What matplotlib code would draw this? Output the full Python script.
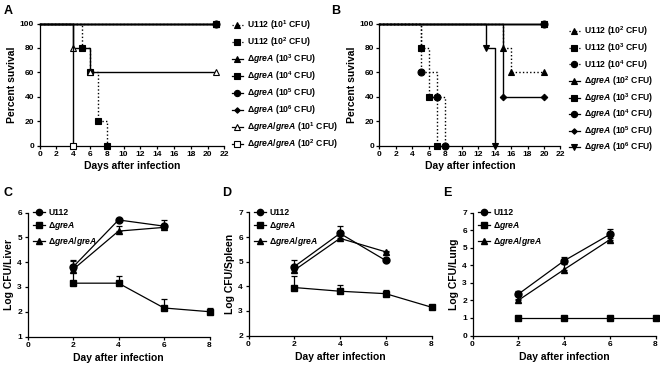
import numpy as np
import matplotlib
matplotlib.use("Agg")
import matplotlib.pyplot as plt

plt.rcParams['font.family'] = ['Liberation Sans', 'DejaVu Sans']
plt.rcParams['font.weight'] = 'bold'
plt.rcParams['mathtext.fontset'] = 'custom'
plt.rcParams['mathtext.rm'] = 'Liberation Sans:bold'
plt.rcParams['mathtext.it'] = 'Liberation Sans:italic:bold'
plt.rcParams['mathtext.bf'] = 'Liberation Sans:bold'
plt.rcParams['axes.linewidth'] = 0.9

GA = r'Δ$\it{greA}$'
GAGA = r'Δ$\it{greA/greA}$'

# ---- panel A: survival
A_labels = ['U112 (10$^{1}$ CFU)', 'U112 (10$^{2}$ CFU)',
            GA + ' (10$^{3}$ CFU)', GA + ' (10$^{4}$ CFU)',
            GA + ' (10$^{5}$ CFU)', GA + ' (10$^{6}$ CFU)',
            GAGA + ' (10$^{1}$ CFU)', GAGA + ' (10$^{2}$ CFU)']
A_days = [[0, 21], [0, 5, 6, 7, 8], [0, 21], [0, 21], [0, 21], [0, 21],
          [0, 4, 6, 21], [0, 4]]
A_surv = [[100, 100], [100, 80, 60, 20, 0], [100, 100], [100, 100],
          [100, 100], [100, 100], [100, 80, 60, 60], [100, 0]]
A_dotted = [True, True, False, False, False, False, False, False]
A_markers = ['^', 's', '^', 's', 'o', 'D', '^', 's']
A_open = [False, False, False, False, False, False, True, True]

# ---- panel B: survival
B_labels = ['U112 (10$^{2}$ CFU)', 'U112 (10$^{3}$ CFU)', 'U112 (10$^{4}$ CFU)',
            GA + ' (10$^{2}$ CFU)', GA + ' (10$^{3}$ CFU)',
            GA + ' (10$^{4}$ CFU)', GA + ' (10$^{5}$ CFU)',
            GA + ' (10$^{6}$ CFU)']
B_days = [[0, 15, 16, 20], [0, 5, 6, 7], [0, 5, 7, 8], [0, 20], [0, 20],
          [0, 20], [0, 15, 20], [0, 13, 14]]
B_surv = [[100, 80, 60, 60], [100, 80, 40, 0], [100, 60, 40, 0], [100, 100],
          [100, 100], [100, 100], [100, 40, 40], [100, 80, 0]]
B_dotted = [True, True, True, False, False, False, False, False]
B_markers = ['^', 's', 'o', '^', 's', 'o', 'D', 'v']

# ---- panels C-E: organ burden
days = [2, 4, 6, 8]
cfu_labels = ['U112', 'Δ$\\it{greA}$', 'Δ$\\it{greA/greA}$']
cfu_markers = ['o', 's', '^']

liver_u112 = [3.8, 5.7, 5.45]
liver_u112_err = [0.3, 0.0, 0.25]
liver_grea = [3.15, 3.15, 2.15, 2.0]
liver_grea_err = [0.75, 0.3, 0.35, 0.15]
liver_comp = [3.7, 5.25, 5.4]
liver_comp_err = [0.35, 0.2, 0.1]

spleen_u112 = [4.8, 6.15, 5.05]
spleen_u112_err = [0.25, 0.3, 0.0]
spleen_grea = [3.95, 3.8, 3.7, 3.15]
spleen_grea_err = [0.45, 0.25, 0.15, 0.1]
spleen_comp = [4.65, 5.95, 5.4]
spleen_comp_err = [0.1, 0.1, 0.05]

lung_u112 = [2.35, 4.25, 5.75]
lung_u112_err = [0.2, 0.2, 0.3]
lung_grea = [1, 1, 1, 1]
lung_grea_err = [0, 0, 0, 0]
lung_comp = [2.0, 3.75, 5.45]
lung_comp_err = [0.1, 0.3, 0.1]

W, H = 660, 369
fig = plt.figure(figsize=(6.6, 3.69), dpi=100)


def rect(x0, y0, x1, y1):
    return [x0 / W, 1 - y1 / H, (x1 - x0) / W, (y1 - y0) / H]


def style(ax):
    ax.spines['top'].set_visible(False)
    ax.spines['right'].set_visible(False)
    ax.tick_params(direction='out', length=2.5, width=0.9, labelsize=6, pad=1.5)


def survival(ax, dlist, slist, dotted, markers, labels, open_=None, order=None):
    n = len(dlist)
    for i in range(n):
        ls = (0, (1, 1.6)) if dotted[i] else '-'
        fill = 'none' if (open_ is not None and open_[i]) else 'full'
        ms = 3.3 if markers[i] == 'D' else 5
        z = 3 + (order[i] if order else n - i)
        ax.step(dlist[i], slist[i], where='post', color='black', lw=1.0,
                linestyle=ls, zorder=z, clip_on=False, snap=True)
        ax.plot(dlist[i][1:], slist[i][1:], linestyle='none', marker=markers[i],
                ms=ms, color='black', mfc='white' if fill == 'none' else 'black',
                mew=0.8, zorder=z + 0.5, clip_on=False)
        # legend proxy
        ax.plot([], [], color='black', lw=0.9, linestyle=ls, marker=markers[i],
                ms=ms - 0.5, mfc='white' if fill == 'none' else 'black', mew=0.8,
                label=labels[i])
    ax.set_xlim(0, 22)
    ax.set_ylim(0, 100)
    ax.set_xticks(range(0, 23, 2))
    ax.set_yticks(range(0, 101, 20))
    ax.set_ylabel('Percent suvival', fontsize=7.5, fontweight='bold', labelpad=2)
    style(ax)


# Panel A
axA = fig.add_axes(rect(39.5, 23.5, 224.5, 145.5))
survival(axA, A_days, A_surv, A_dotted, A_markers, A_labels, A_open,
         order=[1, 2, 3, 9, 4, 5, 6, 7])
axA.set_xlabel('Days after infection', fontsize=7.5, fontweight='bold', labelpad=2)
axA.legend(loc='upper left', bbox_to_anchor=(1.04, 1.04), frameon=False,
           fontsize=6.2, handlelength=1.3, handletextpad=0.45, labelspacing=0.38,
           borderaxespad=0, borderpad=0)

# Panel B
axB = fig.add_axes(rect(379.5, 23.5, 560.5, 145.5))
survival(axB, B_days, B_surv, B_dotted, B_markers, B_labels,
         order=[2, 1, 0, 6, 9, 5, 7, 8])
axB.set_xlabel('Day after infection', fontsize=7.5, fontweight='bold', labelpad=2)
axB.legend(loc='upper left', bbox_to_anchor=(1.045, 0.99), frameon=False,
           fontsize=6.2, handlelength=1.3, handletextpad=0.45, labelspacing=0.33,
           borderaxespad=0, borderpad=0)


def burden(ax, series, errs, ylim, ylabel):
    for i, (y, e) in enumerate(zip(series, errs)):
        x = days[:len(y)]
        ax.errorbar(x, y, yerr=[np.zeros(len(e)), e], color='black', lw=0.9,
                    marker=cfu_markers[i], ms=5, capsize=2.2, elinewidth=0.9,
                    capthick=0.9, clip_on=False, zorder=3 + i)
        ax.plot([], [], color='black', lw=0.9, marker=cfu_markers[i], ms=4.5,
                label=cfu_labels[i])
    ax.set_xlim(0, 8)
    ax.set_ylim(*ylim)
    ax.set_xticks([0, 2, 4, 6, 8])
    ax.set_yticks(range(ylim[0], ylim[1] + 1))
    ax.set_xlabel('Day after infection', fontsize=7.5, fontweight='bold', labelpad=3)
    ax.set_ylabel(ylabel, fontsize=7.5, fontweight='bold', labelpad=2)
    style(ax)
    ax.legend(loc='upper left', bbox_to_anchor=(0.03, 1.035), frameon=False,
              fontsize=6.2, handlelength=1.4, handletextpad=0.4, labelspacing=0.32,
              borderaxespad=0, borderpad=0)


axC = fig.add_axes(rect(27.5, 212.5, 209.5, 336.5))
burden(axC, [liver_u112, liver_grea, liver_comp],
       [liver_u112_err, liver_grea_err, liver_comp_err], (1, 6), 'Log CFU/Liver')

axD = fig.add_axes(rect(248.5, 212.5, 431.5, 335.5))
burden(axD, [spleen_u112, spleen_grea, spleen_comp],
       [spleen_u112_err, spleen_grea_err, spleen_comp_err], (2, 7), 'Log CFU/Spleen')

axE = fig.add_axes(rect(472.5, 212.5, 655.5, 335.5))
burden(axE, [lung_u112, lung_grea, lung_comp],
       [lung_u112_err, lung_grea_err, lung_comp_err], (0, 7), 'Log CFU/Lung')

for lab, (x, y) in zip('ABCDE', [(4, 5), (331, 5), (3, 187), (222, 187), (443, 187)]):
    fig.text(x / W, 1 - y / H, lab, fontsize=9, fontweight='bold', va='top', ha='left')

fig.savefig('out.png', dpi=100)
